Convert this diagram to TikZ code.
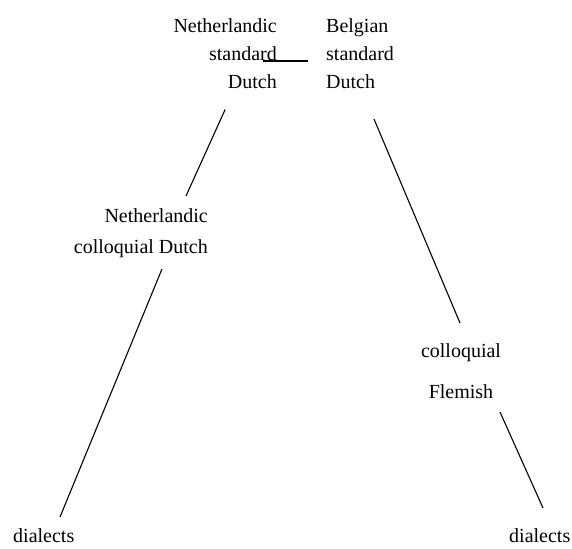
\documentclass[tikz,border=0pt]{standalone}
\usepackage{fontspec}
\setmainfont{Liberation Serif}
\usepackage{tikz}

\begin{document}
\begin{tikzpicture}[x=1pt, y=-1pt, txt/.style={inner sep=0pt, font=\fontsize{20}{28}\selectfont}, ln/.style={line width=1.1pt}]
            \useasboundingbox (0,0) rectangle (572,548);
            \node[txt, align=right, anchor=north east] (nlstd) at (277, 18) {Netherlandic\\standard\\Dutch};
            \node[txt, align=left, anchor=north west] (bestd) at (326, 18) {Belgian\\standard\\Dutch};
            \node[txt, align=right, anchor=north east] (nlcoll) at (208, 208) {Netherlandic\\[3pt]colloquial Dutch};
            \node[txt, align=center, anchor=north] (flem) at (461, 343) {colloquial\\[13pt]Flemish};
            \node[txt, anchor=north west] (diall) at (13, 528) {dialects};
            \node[txt, anchor=north west] (dialr) at (509, 528) {dialects};
            \draw[ln] ([xshift=-14pt,yshift=-43pt]nlstd.north east) -- ([xshift=-18pt,yshift=-43pt]bestd.north west);
            \draw[ln] ([yshift=-21pt]nlstd.south) -- ([xshift=-22pt,yshift=12pt]nlcoll.north east);
            \draw[ln] ([xshift=-46pt,yshift=-61pt]nlcoll.north east) -- ([xshift=47pt,yshift=11pt]diall.north west);
            \draw[ln] ([xshift=48pt,yshift=-101pt]bestd.north west) -- ([xshift=-1pt,yshift=20pt]flem.north);
            \draw[ln] ([xshift=39pt,yshift=-69pt]flem.north) -- ([xshift=34pt,yshift=20pt]dialr.north west);
        \end{tikzpicture}
\end{document}
